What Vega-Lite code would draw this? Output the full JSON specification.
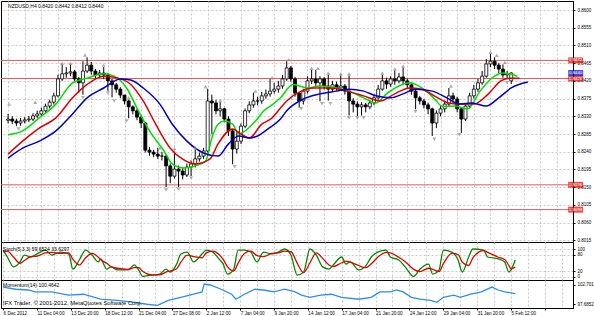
{
  "$schema": "https://vega.github.io/schema/vega-lite/v6.json",
  "padding": {"left": 0, "top": 0, "right": 0, "bottom": 0},
  "background": "#ffffff",
  "spacing": 0,
  "bounds": "flush",
  "config": {
    "font": "Liberation Sans",
    "view": {"stroke": "#000000", "strokeWidth": 1},
    "axis": {"labelFont": "Liberation Sans", "labelFontSize": 4.5, "labelColor": "#000000", "domainColor": "#000000", "tickColor": "#000000", "tickSize": 2, "labelPadding": 2, "gridColor": "#c8c8c8", "gridDash": [2, 2], "gridWidth": 1, "title": null, "tickCount": 100, "labelOverlap": false, "minExtent": 0}
  },
  "datasets": {
    "candles": [
      {"i":0,"o":0.8320,"h":0.8336,"l":0.8312,"c":0.8323},
      {"i":2,"o":0.8323,"h":0.8330,"l":0.8310,"c":0.8318},
      {"i":4,"o":0.8318,"h":0.8324,"l":0.8305,"c":0.8313},
      {"i":6,"o":0.8313,"h":0.8326,"l":0.8306,"c":0.8318},
      {"i":8,"o":0.8318,"h":0.8328,"l":0.8312,"c":0.8321},
      {"i":10,"o":0.8321,"h":0.8331,"l":0.8315,"c":0.8323},
      {"i":12,"o":0.8323,"h":0.8338,"l":0.8318,"c":0.8331},
      {"i":14,"o":0.8331,"h":0.8344,"l":0.8326,"c":0.8336},
      {"i":16,"o":0.8336,"h":0.8352,"l":0.8330,"c":0.8344},
      {"i":18,"o":0.8344,"h":0.8362,"l":0.8338,"c":0.8356},
      {"i":20,"o":0.8356,"h":0.8372,"l":0.8350,"c":0.8366},
      {"i":22,"o":0.8366,"h":0.8390,"l":0.8360,"c":0.8382},
      {"i":24,"o":0.8382,"h":0.8436,"l":0.8378,"c":0.8425},
      {"i":26,"o":0.8425,"h":0.8462,"l":0.8420,"c":0.8438},
      {"i":28,"o":0.8438,"h":0.8455,"l":0.8428,"c":0.8440},
      {"i":30,"o":0.8440,"h":0.8462,"l":0.8432,"c":0.8443},
      {"i":32,"o":0.8443,"h":0.8448,"l":0.8418,"c":0.8425},
      {"i":34,"o":0.8425,"h":0.8430,"l":0.8390,"c":0.8415},
      {"i":36,"o":0.8415,"h":0.8470,"l":0.8385,"c":0.8445},
      {"i":38,"o":0.8445,"h":0.8480,"l":0.8440,"c":0.8460},
      {"i":40,"o":0.8460,"h":0.8468,"l":0.8436,"c":0.8445},
      {"i":42,"o":0.8445,"h":0.8450,"l":0.8426,"c":0.8435},
      {"i":44,"o":0.8435,"h":0.8448,"l":0.8428,"c":0.8440},
      {"i":46,"o":0.8440,"h":0.8455,"l":0.8425,"c":0.8435},
      {"i":48,"o":0.8435,"h":0.8440,"l":0.8395,"c":0.8420},
      {"i":50,"o":0.8420,"h":0.8425,"l":0.8378,"c":0.8410},
      {"i":52,"o":0.8410,"h":0.8415,"l":0.8390,"c":0.8399},
      {"i":54,"o":0.8399,"h":0.8404,"l":0.8376,"c":0.8384},
      {"i":56,"o":0.8384,"h":0.8384,"l":0.8360,"c":0.8369},
      {"i":58,"o":0.8369,"h":0.8372,"l":0.8325,"c":0.8354},
      {"i":60,"o":0.8354,"h":0.8358,"l":0.8335,"c":0.8344},
      {"i":62,"o":0.8344,"h":0.8350,"l":0.8320,"c":0.8328},
      {"i":64,"o":0.8328,"h":0.8332,"l":0.8300,"c":0.8313},
      {"i":66,"o":0.8313,"h":0.8316,"l":0.8238,"c":0.8244},
      {"i":68,"o":0.8244,"h":0.8252,"l":0.8230,"c":0.8239},
      {"i":70,"o":0.8239,"h":0.8245,"l":0.8226,"c":0.8234},
      {"i":72,"o":0.8234,"h":0.8250,"l":0.8222,"c":0.8229},
      {"i":74,"o":0.8229,"h":0.8240,"l":0.8218,"c":0.8229},
      {"i":76,"o":0.8229,"h":0.8232,"l":0.8150,"c":0.8204},
      {"i":78,"o":0.8204,"h":0.8210,"l":0.8160,"c":0.8178},
      {"i":80,"o":0.8178,"h":0.8240,"l":0.8172,"c":0.8196},
      {"i":82,"o":0.8196,"h":0.8205,"l":0.8150,"c":0.8191},
      {"i":84,"o":0.8191,"h":0.8200,"l":0.8170,"c":0.8181},
      {"i":86,"o":0.8181,"h":0.8210,"l":0.8176,"c":0.8201},
      {"i":88,"o":0.8201,"h":0.8218,"l":0.8178,"c":0.8209},
      {"i":90,"o":0.8209,"h":0.8245,"l":0.8200,"c":0.8222},
      {"i":92,"o":0.8222,"h":0.8238,"l":0.8215,"c":0.8229},
      {"i":94,"o":0.8229,"h":0.8250,"l":0.8222,"c":0.8242},
      {"i":96,"o":0.8242,"h":0.8400,"l":0.8238,"c":0.8369},
      {"i":98,"o":0.8369,"h":0.8385,"l":0.8285,"c":0.8364},
      {"i":100,"o":0.8364,"h":0.8372,"l":0.8335,"c":0.8344},
      {"i":102,"o":0.8344,"h":0.8366,"l":0.8330,"c":0.8349},
      {"i":104,"o":0.8349,"h":0.8352,"l":0.8315,"c":0.8323},
      {"i":106,"o":0.8323,"h":0.8330,"l":0.8280,"c":0.8293},
      {"i":108,"o":0.8293,"h":0.8298,"l":0.8208,"c":0.8247},
      {"i":110,"o":0.8247,"h":0.8290,"l":0.8235,"c":0.8267},
      {"i":112,"o":0.8267,"h":0.8312,"l":0.8260,"c":0.8305},
      {"i":114,"o":0.8305,"h":0.8350,"l":0.8300,"c":0.8344},
      {"i":116,"o":0.8344,"h":0.8368,"l":0.8338,"c":0.8359},
      {"i":118,"o":0.8359,"h":0.8390,"l":0.8352,"c":0.8369},
      {"i":120,"o":0.8369,"h":0.8380,"l":0.8358,"c":0.8369},
      {"i":122,"o":0.8369,"h":0.8392,"l":0.8362,"c":0.8382},
      {"i":124,"o":0.8382,"h":0.8398,"l":0.8375,"c":0.8387},
      {"i":126,"o":0.8387,"h":0.8425,"l":0.8380,"c":0.8394},
      {"i":128,"o":0.8394,"h":0.8415,"l":0.8388,"c":0.8399},
      {"i":130,"o":0.8399,"h":0.8420,"l":0.8390,"c":0.8407},
      {"i":132,"o":0.8407,"h":0.8435,"l":0.8400,"c":0.8425},
      {"i":134,"o":0.8425,"h":0.8470,"l":0.8420,"c":0.8453},
      {"i":136,"o":0.8453,"h":0.8458,"l":0.8418,"c":0.8425},
      {"i":138,"o":0.8425,"h":0.8430,"l":0.8380,"c":0.8389},
      {"i":140,"o":0.8389,"h":0.8392,"l":0.8352,"c":0.8369},
      {"i":142,"o":0.8369,"h":0.8400,"l":0.8360,"c":0.8394},
      {"i":144,"o":0.8394,"h":0.8432,"l":0.8388,"c":0.8420},
      {"i":146,"o":0.8420,"h":0.8448,"l":0.8412,"c":0.8425},
      {"i":148,"o":0.8425,"h":0.8448,"l":0.8405,"c":0.8415},
      {"i":150,"o":0.8415,"h":0.8432,"l":0.8368,"c":0.8425},
      {"i":152,"o":0.8425,"h":0.8430,"l":0.8398,"c":0.8407},
      {"i":154,"o":0.8407,"h":0.8436,"l":0.8370,"c":0.8399},
      {"i":156,"o":0.8399,"h":0.8420,"l":0.8392,"c":0.8410},
      {"i":158,"o":0.8410,"h":0.8418,"l":0.8395,"c":0.8402},
      {"i":160,"o":0.8402,"h":0.8434,"l":0.8396,"c":0.8407},
      {"i":162,"o":0.8407,"h":0.8412,"l":0.8385,"c":0.8394},
      {"i":164,"o":0.8394,"h":0.8434,"l":0.8332,"c":0.8369},
      {"i":166,"o":0.8369,"h":0.8376,"l":0.8340,"c":0.8361},
      {"i":168,"o":0.8361,"h":0.8368,"l":0.8330,"c":0.8354},
      {"i":170,"o":0.8354,"h":0.8366,"l":0.8332,"c":0.8359},
      {"i":172,"o":0.8359,"h":0.8364,"l":0.8340,"c":0.8354},
      {"i":174,"o":0.8354,"h":0.8372,"l":0.8348,"c":0.8364},
      {"i":176,"o":0.8364,"h":0.8385,"l":0.8358,"c":0.8377},
      {"i":178,"o":0.8377,"h":0.8410,"l":0.8372,"c":0.8399},
      {"i":180,"o":0.8399,"h":0.8436,"l":0.8395,"c":0.8420},
      {"i":182,"o":0.8420,"h":0.8428,"l":0.8400,"c":0.8412},
      {"i":184,"o":0.8412,"h":0.8432,"l":0.8405,"c":0.8425},
      {"i":186,"o":0.8425,"h":0.8446,"l":0.8410,"c":0.8420},
      {"i":188,"o":0.8420,"h":0.8440,"l":0.8414,"c":0.8430},
      {"i":190,"o":0.8430,"h":0.8454,"l":0.8412,"c":0.8420},
      {"i":192,"o":0.8420,"h":0.8426,"l":0.8400,"c":0.8410},
      {"i":194,"o":0.8410,"h":0.8415,"l":0.8385,"c":0.8394},
      {"i":196,"o":0.8394,"h":0.8398,"l":0.8348,"c":0.8377},
      {"i":198,"o":0.8377,"h":0.8382,"l":0.8360,"c":0.8369},
      {"i":200,"o":0.8369,"h":0.8374,"l":0.8350,"c":0.8359},
      {"i":202,"o":0.8359,"h":0.8365,"l":0.8335,"c":0.8349},
      {"i":204,"o":0.8349,"h":0.8352,"l":0.8280,"c":0.8313},
      {"i":206,"o":0.8313,"h":0.8345,"l":0.8300,"c":0.8338},
      {"i":208,"o":0.8338,"h":0.8358,"l":0.8330,"c":0.8349},
      {"i":210,"o":0.8349,"h":0.8370,"l":0.8340,"c":0.8361},
      {"i":212,"o":0.8361,"h":0.8402,"l":0.8355,"c":0.8382},
      {"i":214,"o":0.8382,"h":0.8390,"l":0.8365,"c":0.8374},
      {"i":216,"o":0.8374,"h":0.8380,"l":0.8340,"c":0.8349},
      {"i":218,"o":0.8349,"h":0.8352,"l":0.8288,"c":0.8323},
      {"i":220,"o":0.8323,"h":0.8362,"l":0.8318,"c":0.8356},
      {"i":222,"o":0.8356,"h":0.8390,"l":0.8350,"c":0.8382},
      {"i":224,"o":0.8382,"h":0.8410,"l":0.8375,"c":0.8399},
      {"i":226,"o":0.8399,"h":0.8425,"l":0.8392,"c":0.8415},
      {"i":228,"o":0.8415,"h":0.8445,"l":0.8410,"c":0.8432},
      {"i":230,"o":0.8432,"h":0.8475,"l":0.8428,"c":0.8463},
      {"i":232,"o":0.8463,"h":0.8488,"l":0.8455,"c":0.8470},
      {"i":234,"o":0.8470,"h":0.8480,"l":0.8450,"c":0.8460},
      {"i":236,"o":0.8460,"h":0.8465,"l":0.8440,"c":0.8450},
      {"i":238,"o":0.8450,"h":0.8462,"l":0.8428,"c":0.8435},
      {"i":240,"o":0.8435,"h":0.8445,"l":0.8425,"c":0.8438},
      {"i":242,"o":0.8420,"h":0.8442,"l":0.8412,"c":0.8440}
    ],
    "ma": [
      {"s":"g","i":0,"v":0.8283},{"s":"g","i":7,"v":0.8293},{"s":"g","i":15,"v":0.8326},{"s":"g","i":23,"v":0.8361},{"s":"g","i":31,"v":0.8415},{"s":"g","i":38,"v":0.8427},{"s":"g","i":46,"v":0.8438},{"s":"g","i":51,"v":0.8432},{"s":"g","i":57,"v":0.8402},{"s":"g","i":62,"v":0.8351},{"s":"g","i":68,"v":0.8293},{"s":"g","i":75,"v":0.8242},{"s":"g","i":79,"v":0.8209},{"s":"g","i":84,"v":0.8199},{"s":"g","i":90,"v":0.8204},{"s":"g","i":95,"v":0.8216},{"s":"g","i":98,"v":0.8275},{"s":"g","i":101,"v":0.8310},{"s":"g","i":104,"v":0.8318},{"s":"g","i":108,"v":0.8310},{"s":"g","i":111,"v":0.8285},{"s":"g","i":114,"v":0.8293},{"s":"g","i":119,"v":0.8318},{"s":"g","i":123,"v":0.8344},{"s":"g","i":127,"v":0.8359},{"s":"g","i":131,"v":0.8377},{"s":"g","i":137,"v":0.8411},{"s":"g","i":144,"v":0.8402},{"s":"g","i":150,"v":0.8407},{"s":"g","i":158,"v":0.8402},{"s":"g","i":164,"v":0.8394},{"s":"g","i":171,"v":0.8377},{"s":"g","i":177,"v":0.8364},{"s":"g","i":182,"v":0.8387},{"s":"g","i":188,"v":0.8407},{"s":"g","i":193,"v":0.8415},{"s":"g","i":199,"v":0.8402},{"s":"g","i":205,"v":0.8375},{"s":"g","i":209,"v":0.8355},{"s":"g","i":215,"v":0.8356},{"s":"g","i":221,"v":0.8349},{"s":"g","i":227,"v":0.8394},{"s":"g","i":234,"v":0.8432},{"s":"g","i":238,"v":0.8440},{"s":"g","i":245,"v":0.8432},
      {"s":"r","i":0,"v":0.8234},{"s":"r","i":7,"v":0.8267},{"s":"r","i":15,"v":0.8300},{"s":"r","i":23,"v":0.8326},{"s":"r","i":31,"v":0.8377},{"s":"r","i":38,"v":0.8411},{"s":"r","i":46,"v":0.8432},{"s":"r","i":53,"v":0.8427},{"s":"r","i":59,"v":0.8411},{"s":"r","i":65,"v":0.8369},{"s":"r","i":71,"v":0.8310},{"s":"r","i":78,"v":0.8249},{"s":"r","i":84,"v":0.8221},{"s":"r","i":90,"v":0.8209},{"s":"r","i":97,"v":0.8221},{"s":"r","i":101,"v":0.8260},{"s":"r","i":108,"v":0.8298},{"s":"r","i":112,"v":0.8285},{"s":"r","i":116,"v":0.8275},{"s":"r","i":122,"v":0.8310},{"s":"r","i":127,"v":0.8326},{"s":"r","i":131,"v":0.8351},{"s":"r","i":134,"v":0.8369},{"s":"r","i":141,"v":0.8394},{"s":"r","i":147,"v":0.8402},{"s":"r","i":155,"v":0.8402},{"s":"r","i":163,"v":0.8394},{"s":"r","i":171,"v":0.8382},{"s":"r","i":179,"v":0.8369},{"s":"r","i":186,"v":0.8387},{"s":"r","i":193,"v":0.8402},{"s":"r","i":199,"v":0.8399},{"s":"r","i":205,"v":0.8382},{"s":"r","i":212,"v":0.8364},{"s":"r","i":218,"v":0.8361},{"s":"r","i":224,"v":0.8361},{"s":"r","i":231,"v":0.8387},{"s":"r","i":237,"v":0.8420},{"s":"r","i":241,"v":0.8427},{"s":"r","i":246,"v":0.8427},
      {"s":"b","i":0,"v":0.8224},{"s":"b","i":7,"v":0.8249},{"s":"b","i":15,"v":0.8267},{"s":"b","i":23,"v":0.8293},{"s":"b","i":31,"v":0.8336},{"s":"b","i":38,"v":0.8377},{"s":"b","i":46,"v":0.8402},{"s":"b","i":54,"v":0.8425},{"s":"b","i":59,"v":0.8422},{"s":"b","i":65,"v":0.8402},{"s":"b","i":73,"v":0.8361},{"s":"b","i":79,"v":0.8310},{"s":"b","i":86,"v":0.8267},{"s":"b","i":94,"v":0.8237},{"s":"b","i":101,"v":0.8229},{"s":"b","i":106,"v":0.8260},{"s":"b","i":111,"v":0.8280},{"s":"b","i":116,"v":0.8275},{"s":"b","i":120,"v":0.8280},{"s":"b","i":125,"v":0.8298},{"s":"b","i":131,"v":0.8323},{"s":"b","i":134,"v":0.8344},{"s":"b","i":142,"v":0.8374},{"s":"b","i":150,"v":0.8387},{"s":"b","i":158,"v":0.8394},{"s":"b","i":164,"v":0.8399},{"s":"b","i":171,"v":0.8394},{"s":"b","i":177,"v":0.8382},{"s":"b","i":184,"v":0.8377},{"s":"b","i":190,"v":0.8387},{"s":"b","i":196,"v":0.8399},{"s":"b","i":204,"v":0.8394},{"s":"b","i":211,"v":0.8377},{"s":"b","i":217,"v":0.8361},{"s":"b","i":223,"v":0.8364},{"s":"b","i":230,"v":0.8356},{"s":"b","i":236,"v":0.8377},{"s":"b","i":242,"v":0.8402},{"s":"b","i":250,"v":0.8417}
    ],
    "fractals": [
      {"i":0.5,"p":0.8361,"d":"up"},{"i":13,"p":0.8366,"d":"up"},{"i":26,"p":0.8465,"d":"up"},{"i":30,"p":0.8465,"d":"up"},{"i":37,"p":0.8486,"d":"up"},{"i":46,"p":0.8460,"d":"up"},{"i":58,"p":0.8377,"d":"up"},{"i":73,"p":0.8250,"d":"up"},{"i":80,"p":0.8248,"d":"up"},{"i":90,"p":0.8250,"d":"up"},{"i":95,"p":0.8405,"d":"up"},{"i":102,"p":0.8370,"d":"up"},{"i":119,"p":0.8394,"d":"up"},{"i":127,"p":0.8428,"d":"up"},{"i":135,"p":0.8474,"d":"up"},{"i":146,"p":0.8452,"d":"up"},{"i":149,"p":0.8452,"d":"up"},{"i":154,"p":0.8440,"d":"up"},{"i":160,"p":0.8438,"d":"up"},{"i":164,"p":0.8438,"d":"up"},{"i":180,"p":0.8440,"d":"up"},{"i":186,"p":0.8450,"d":"up"},{"i":190,"p":0.8458,"d":"up"},{"i":213,"p":0.8407,"d":"up"},{"i":232,"p":0.8493,"d":"up"},{"i":235,"p":0.8485,"d":"up"},{"i":239,"p":0.8467,"d":"up"},
      {"i":5,"p":0.8298,"d":"down"},{"i":36,"p":0.8377,"d":"down"},{"i":48,"p":0.8389,"d":"down"},{"i":51,"p":0.8369,"d":"down"},{"i":57,"p":0.8318,"d":"down"},{"i":76,"p":0.8143,"d":"down"},{"i":82,"p":0.8145,"d":"down"},{"i":88,"p":0.8173,"d":"down"},{"i":97,"p":0.8280,"d":"down"},{"i":109,"p":0.8202,"d":"down"},{"i":141,"p":0.8349,"d":"down"},{"i":151,"p":0.8362,"d":"down"},{"i":155,"p":0.8362,"d":"down"},{"i":164,"p":0.8326,"d":"down"},{"i":168,"p":0.8326,"d":"down"},{"i":171,"p":0.8326,"d":"down"},{"i":196,"p":0.8342,"d":"down"},{"i":205,"p":0.8272,"d":"down"},{"i":217,"p":0.8283,"d":"down"},{"i":240,"p":0.8415,"d":"down"}
    ],
    "levels": [
      {"p":0.8472,"t":"0.8472","c":"r"},
      {"p":0.8426,"t":"0.8426","c":"r"},
      {"p":0.8156,"t":"0.8156","c":"r"},
      {"p":0.8093,"t":"0.8093","c":"r"},
      {"p":0.8440,"t":"0.8440","c":"k"}
    ],
    "stoch": [
      {"i":0,"k":96,"d":90},{"i":2,"k":71,"d":92},{"i":5,"k":35,"d":70},{"i":8,"k":53,"d":48},{"i":10,"k":78,"d":58},{"i":13,"k":71,"d":72},{"i":16,"k":82,"d":74},{"i":20,"k":96,"d":86},{"i":23,"k":78,"d":88},{"i":27,"k":89,"d":84},{"i":31,"k":82,"d":86},{"i":33,"k":27,"d":62},{"i":36,"k":60,"d":42},{"i":39,"k":96,"d":68},{"i":42,"k":78,"d":84},{"i":45,"k":53,"d":70},{"i":46,"k":64,"d":62},{"i":49,"k":27,"d":48},{"i":51,"k":35,"d":36},{"i":54,"k":24,"d":30},{"i":59,"k":24,"d":26},{"i":62,"k":42,"d":32},{"i":64,"k":24,"d":32},{"i":66,"k":0,"d":18},{"i":70,"k":5,"d":6},{"i":74,"k":9,"d":6},{"i":77,"k":27,"d":16},{"i":79,"k":16,"d":20},{"i":82,"k":45,"d":28},{"i":84,"k":82,"d":52},{"i":87,"k":89,"d":78},{"i":90,"k":53,"d":72},{"i":94,"k":82,"d":68},{"i":96,"k":96,"d":86},{"i":99,"k":89,"d":92},{"i":102,"k":64,"d":80},{"i":104,"k":45,"d":62},{"i":106,"k":9,"d":36},{"i":109,"k":27,"d":20},{"i":111,"k":96,"d":48},{"i":114,"k":96,"d":84},{"i":117,"k":89,"d":92},{"i":120,"k":53,"d":76},{"i":123,"k":89,"d":72},{"i":127,"k":82,"d":84},{"i":130,"k":89,"d":86},{"i":133,"k":100,"d":92},{"i":136,"k":78,"d":90},{"i":139,"k":5,"d":48},{"i":142,"k":16,"d":14},{"i":145,"k":100,"d":50},{"i":148,"k":78,"d":86},{"i":151,"k":35,"d":66},{"i":154,"k":27,"d":42},{"i":156,"k":42,"d":36},{"i":160,"k":71,"d":50},{"i":162,"k":45,"d":56},{"i":164,"k":53,"d":52},{"i":168,"k":24,"d":40},{"i":171,"k":35,"d":32},{"i":174,"k":71,"d":46},{"i":177,"k":89,"d":70},{"i":181,"k":96,"d":88},{"i":183,"k":71,"d":86},{"i":187,"k":60,"d":70},{"i":190,"k":35,"d":54},{"i":194,"k":0,"d":26},{"i":197,"k":27,"d":18},{"i":201,"k":45,"d":30},{"i":203,"k":9,"d":26},{"i":206,"k":24,"d":18},{"i":208,"k":96,"d":46},{"i":212,"k":89,"d":84},{"i":215,"k":60,"d":80},{"i":217,"k":16,"d":52},{"i":220,"k":71,"d":40},{"i":222,"k":100,"d":68},{"i":227,"k":96,"d":94},{"i":229,"k":71,"d":88},{"i":234,"k":64,"d":70},{"i":237,"k":53,"d":62},{"i":239,"k":16,"d":40},{"i":240,"k":24,"d":28},{"i":242,"k":60,"d":34}
    ],
    "mom": [
      {"i":0,"m":102.17},{"i":6,"m":101.6},{"i":12,"m":101.4},{"i":15,"m":100.9},{"i":23,"m":100.9},{"i":31,"m":100.06},{"i":38,"m":100.3},{"i":46,"m":99.0},{"i":54,"m":98.7},{"i":62,"m":98.2},{"i":68,"m":97.7},{"i":73,"m":97.4},{"i":78,"m":98.7},{"i":84,"m":99.5},{"i":90,"m":100.3},{"i":94,"m":100.9},{"i":95,"m":102.96},{"i":98,"m":102.7},{"i":103,"m":101.6},{"i":108,"m":100.3},{"i":110,"m":99.0},{"i":114,"m":100.3},{"i":119,"m":101.6},{"i":123,"m":101.4},{"i":128,"m":100.9},{"i":133,"m":101.6},{"i":138,"m":100.9},{"i":141,"m":100.06},{"i":145,"m":99.5},{"i":150,"m":100.06},{"i":155,"m":100.3},{"i":160,"m":99.5},{"i":168,"m":99.0},{"i":174,"m":99.5},{"i":178,"m":100.9},{"i":183,"m":100.9},{"i":186,"m":101.4},{"i":189,"m":100.9},{"i":193,"m":99.5},{"i":197,"m":99.0},{"i":202,"m":98.7},{"i":205,"m":98.2},{"i":208,"m":99.5},{"i":213,"m":100.06},{"i":216,"m":99.5},{"i":221,"m":100.3},{"i":226,"m":100.9},{"i":231,"m":102.17},{"i":234,"m":101.4},{"i":237,"m":100.9},{"i":242,"m":100.46}
    ],
    "labels": [
      {"panel":"main","t":"NZDUSD,H4  0.8420 0.8442 0.8412 0.8440"},
      {"panel":"stoch","t":"Stoch(5,3,3) 59.6524 33.6297"},
      {"panel":"mom","t":"Momentum(14) 100.4642"},
      {"panel":"copy","t":"IFX Trader, © 2001-2012, MetaQuotes Software Corp."}
    ]
  },
  "vconcat": [
    {
      "width": 572,
      "height": 241,
      "layer": [
        {
          "data": {"name": "levels"},
          "transform": [{"filter": "datum.c == 'r'"}],
          "mark": {"type": "rule", "color": "#e05a5a", "strokeWidth": 1},
          "encoding": {
            "y": {"field": "p", "type": "quantitative", "scale": {"domain": [0.80108, 0.86229], "nice": false, "zero": false},
                  "axis": {"orient": "right", "values": [0.8015, 0.806, 0.8105, 0.815, 0.8195, 0.824, 0.8285, 0.833, 0.8375, 0.842, 0.8465, 0.851, 0.8555, 0.86], "format": ".4f", "labelOverlap": false, "tickCount": 100}}
          }
        },
        {
          "data": {"name": "candles"},
          "mark": {"type": "rule", "color": "#000000", "strokeWidth": 1},
          "encoding": {
            "x": {"field": "i", "type": "quantitative", "scale": {"domain": [-1, 269.3], "nice": false, "zero": false},
                  "axis": {"values": [0,8,16,24,32,40,48,56,64,72,80,88,96,104,112,120,128,136,144,152,160,168,176,184,192,200,208,216,224,232,240,248,256,264], "tickCount": 100, "labels": false, "ticks": false, "domain": false, "grid": true}},
            "y": {"field": "l", "type": "quantitative"},
            "y2": {"field": "h"}
          }
        },
        {
          "data": {"name": "candles"},
          "mark": {"type": "bar", "width": 3, "stroke": "#000000", "strokeWidth": 0.8},
          "encoding": {
            "x": {"field": "i", "type": "quantitative"},
            "y": {"field": "o", "type": "quantitative"},
            "y2": {"field": "c"},
            "fill": {"condition": {"test": "datum.c >= datum.o", "value": "#ffffff"}, "value": "#000000"}
          }
        },
        {
          "data": {"name": "ma"},
          "mark": {"type": "line", "strokeWidth": 1.5, "interpolate": "monotone"},
          "encoding": {
            "x": {"field": "i", "type": "quantitative"},
            "y": {"field": "v", "type": "quantitative"},
            "color": {"field": "s", "type": "nominal", "scale": {"domain": ["b", "r", "g"], "range": ["#0000c8", "#dd0000", "#00dd00"]}, "legend": null},
            "order": {"field": "i", "type": "quantitative"}
          }
        },
        {
          "data": {"name": "fractals"},
          "mark": {"type": "point", "filled": true, "size": 16, "color": "#8c8c8c"},
          "encoding": {
            "x": {"field": "i", "type": "quantitative"},
            "y": {"field": "p", "type": "quantitative"},
            "shape": {"field": "d", "type": "nominal", "scale": {"domain": ["up", "down"], "range": ["triangle-up", "triangle-down"]}, "legend": null}
          }
        },
        {
          "data": {"name": "levels"},
          "mark": {"type": "tick", "orient": "horizontal", "thickness": 6, "size": 15, "clip": false},
          "encoding": {
            "x": {"datum": 273},
            "y": {"field": "p", "type": "quantitative"},
            "color": {"field": "c", "type": "nominal", "scale": {"domain": ["r", "k"], "range": ["#ee1c1c", "#000000"]}, "legend": null}
          }
        },
        {
          "data": {"name": "levels"},
          "mark": {"type": "text", "color": "#ffffff", "fontSize": 4.3, "font": "Liberation Sans", "align": "center", "baseline": "middle", "clip": false},
          "encoding": {
            "x": {"datum": 273},
            "y": {"field": "p", "type": "quantitative"},
            "text": {"field": "t"}
          }
        },
        {
          "data": {"name": "labels"},
          "transform": [{"filter": "datum.panel == 'main'"}],
          "mark": {"type": "text", "fontSize": 5, "font": "Liberation Sans", "align": "left", "baseline": "middle", "color": "#000000"},
          "encoding": {
            "x": {"datum": 0},
            "y": {"datum": 0.8610},
            "text": {"field": "t"}
          }
        }
      ]
    },
    {
      "width": 572,
      "height": 38,
      "layer": [
        {
          "data": {"name": "stoch"},
          "mark": {"type": "line", "color": "#008800", "strokeWidth": 1.3, "interpolate": "monotone"},
          "encoding": {
            "x": {"field": "i", "type": "quantitative", "scale": {"domain": [-1, 269.3], "nice": false, "zero": false},
                  "axis": {"values": [0,8,16,24,32,40,48,56,64,72,80,88,96,104,112,120,128,136,144,152,160,168,176,184,192,200,208,216,224,232,240,248,256,264], "tickCount": 100, "labels": false, "ticks": false, "domain": false, "grid": true}},
            "y": {"field": "k", "type": "quantitative", "scale": {"domain": [-12.7, 125.5], "nice": false, "zero": false},
                  "axis": {"orient": "right", "values": [0, 20, 80, 100], "tickCount": 100, "labelOverlap": false, "grid": true}}
          }
        },
        {
          "data": {"name": "stoch"},
          "mark": {"type": "line", "color": "#e00000", "strokeWidth": 1.3, "interpolate": "monotone"},
          "encoding": {
            "x": {"field": "i", "type": "quantitative"},
            "y": {"field": "d", "type": "quantitative"}
          }
        },
        {
          "data": {"name": "labels"},
          "transform": [{"filter": "datum.panel == 'stoch'"}],
          "mark": {"type": "text", "fontSize": 5, "font": "Liberation Sans", "align": "left", "baseline": "middle", "color": "#000000"},
          "encoding": {"x": {"datum": 0}, "y": {"datum": 100}, "text": {"field": "t"}}
        },
        {
          "mark": {"type": "rule", "color": "#808080", "strokeWidth": 3},
          "encoding": {"y": {"datum": 125.5}}
        }
      ]
    },
    {
      "width": 572,
      "height": 28,
      "layer": [
        {
          "data": {"name": "mom"},
          "mark": {"type": "line", "color": "#2e8ef0", "strokeWidth": 1.3},
          "encoding": {
            "x": {"field": "i", "type": "quantitative", "scale": {"domain": [-1, 269.3], "nice": false, "zero": false},
                  "axis": {"values": [0,8,16,24,32,40,48,56,64,72,80,88,96,104,112,120,128,136,144,152,160,168,176,184,192,200,208,216,224,232,240,248,256,264],
                           "tickCount": 100,
                           "labelExpr": "datum.value % 16 == 0 ? ['6 Dec 2012','11 Dec 04:00','13 Dec 20:00','18 Dec 12:00','21 Dec 04:00','27 Dec 08:00','2 Jan 12:00','7 Jan 04:00','9 Jan 20:00','14 Jan 12:00','17 Jan 04:00','21 Jan 20:00','24 Jan 12:00','29 Jan 04:00','31 Jan 20:00','5 Feb 12:00','',''][datum.value / 16] : ''",
                           "labelFontSize": 4.6,
                           "labelAlign": "left", "labelBaseline": "top", "labelOverlap": false, "labelBound": false, "labelFlush": false, "labelPadding": 0, "tickSize": 2,
                           "tickOpacity": {"condition": {"test": "datum.value % 16 == 0", "value": 1}, "value": 0},
                           "domain": true, "grid": true}},
            "y": {"field": "m", "type": "quantitative", "scale": {"domain": [96.72, 104.0], "nice": false, "zero": false},
                  "axis": {"orient": "right", "values": [97.6852, 102.701], "tickCount": 100, "format": ".6r", "grid": false, "labelOverlap": false}}
          }
        },
        {
          "data": {"name": "labels"},
          "transform": [{"filter": "datum.panel == 'mom'"}],
          "mark": {"type": "text", "fontSize": 5, "font": "Liberation Sans", "align": "left", "baseline": "middle", "color": "#000000"},
          "encoding": {"x": {"datum": 0}, "y": {"datum": 102.7}, "text": {"field": "t"}}
        },
        {
          "data": {"name": "labels"},
          "transform": [{"filter": "datum.panel == 'copy'"}],
          "mark": {"type": "text", "fontSize": 5.8, "font": "Liberation Sans", "align": "left", "baseline": "middle", "color": "#000000"},
          "encoding": {"x": {"datum": 0}, "y": {"datum": 98.02}, "text": {"field": "t"}}
        },
        {
          "mark": {"type": "rule", "color": "#808080", "strokeWidth": 3},
          "encoding": {"y": {"datum": 104.0}}
        }
      ]
    }
  ]
}
